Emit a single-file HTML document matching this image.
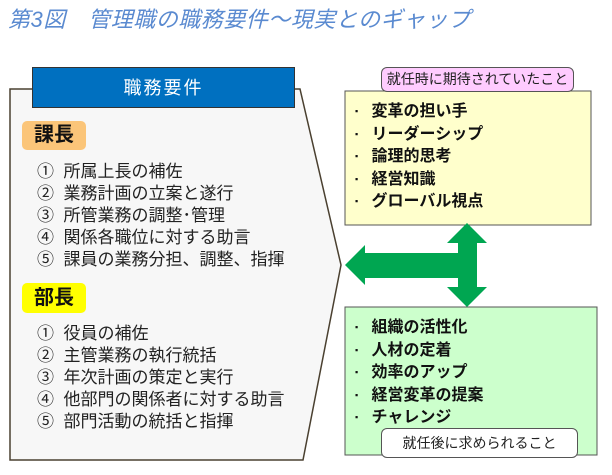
<!DOCTYPE html>
<html><head><meta charset="utf-8"><style>
body{margin:0;width:612px;height:475px;background:#fff;position:relative;overflow:hidden;font-family:"Liberation Sans","Noto Sans CJK JP",sans-serif;}
.a{position:absolute;}
.t{font-size:17px;line-height:22px;color:#222;white-space:nowrap;}
.b{font-size:16px;line-height:22.5px;color:#111;font-weight:bold;white-space:nowrap;}
.s{font-size:9px;vertical-align:2px;line-height:0;}
</style></head><body>
<div class="a" style="left:8px;top:2px;font-size:22px;font-style:italic;color:#5a8ad0;white-space:nowrap;letter-spacing:0.5px">第3図　管理職の職務要件～現実とのギャップ</div>
<svg class="a" style="left:0;top:0" width="612" height="475">
<polygon points="10,89 300,89 341,265 303,460 10,460" fill="#f7f7f7" stroke="#4a4030" stroke-width="1.5"/>
<rect x="345" y="91" width="246" height="134" fill="#ffffcc" stroke="#555" stroke-width="1"/>
<rect x="345" y="307" width="252" height="148" fill="#ccffcc" stroke="#555" stroke-width="1"/>
<polygon fill="#00a651" points="345,265 365,245 365,253 458,253 458,243 447,243 467,223 487,243 477,243 477,287 487,287 467,307 447,287 458,287 458,278 365,278 365,285"/>
</svg>
<div class="a" style="left:32px;top:67px;width:263px;height:41px;background:#0070c0;border:1px solid #333;box-sizing:border-box;color:#fff;font-size:18px;text-align:center;line-height:40px;letter-spacing:2px">職務要件</div>
<div class="a" style="left:22px;top:121px;width:64px;height:29px;background:#fbc579;border-radius:5px;font-size:20px;font-weight:bold;line-height:29px;text-align:center;color:#111">課長</div>
<div class="a t" style="left:37px;top:161px">①&nbsp; 所属上長の補佐<br>②&nbsp; 業務計画の立案と遂行<br>③&nbsp; 所管業務の調整･管理<br>④&nbsp; 関係各職位に対する助言<br>⑤&nbsp; 課員の業務分担、調整、指揮</div>
<div class="a" style="left:22px;top:283px;width:64px;height:30px;background:#ffff00;border-radius:5px;font-size:20px;font-weight:bold;line-height:30px;text-align:center;color:#111">部長</div>
<div class="a t" style="left:37px;top:323px">①&nbsp; 役員の補佐<br>②&nbsp; 主管業務の執行統括<br>③&nbsp; 年次計画の策定と実行<br>④&nbsp; 他部門の関係者に対する助言<br>⑤&nbsp; 部門活動の統括と指揮</div>
<div class="a" style="left:381px;top:67px;width:193px;height:25px;background:#ffccff;border:1px solid #555;border-radius:6px;box-sizing:border-box;font-size:14px;line-height:23px;text-align:center;color:#222">就任時に期待されていたこと</div>
<div class="a b" style="left:355px;top:101px"><span class="s">▪</span>&nbsp;&nbsp; 変革の担い手<br><span class="s">▪</span>&nbsp;&nbsp; リーダーシップ<br><span class="s">▪</span>&nbsp;&nbsp; 論理的思考<br><span class="s">▪</span>&nbsp;&nbsp; 経営知識<br><span class="s">▪</span>&nbsp;&nbsp; グローバル視点</div>
<div class="a b" style="left:355px;top:317px"><span class="s">▪</span>&nbsp;&nbsp; 組織の活性化<br><span class="s">▪</span>&nbsp;&nbsp; 人材の定着<br><span class="s">▪</span>&nbsp;&nbsp; 効率のアップ<br><span class="s">▪</span>&nbsp;&nbsp; 経営変革の提案<br><span class="s">▪</span>&nbsp;&nbsp; チャレンジ</div>
<div class="a" style="left:381px;top:428px;width:197px;height:30px;background:#fff;border:1px solid #555;border-radius:6px;box-sizing:border-box;font-size:14px;line-height:28px;text-align:center;color:#222">就任後に求められること</div>
</body></html>
